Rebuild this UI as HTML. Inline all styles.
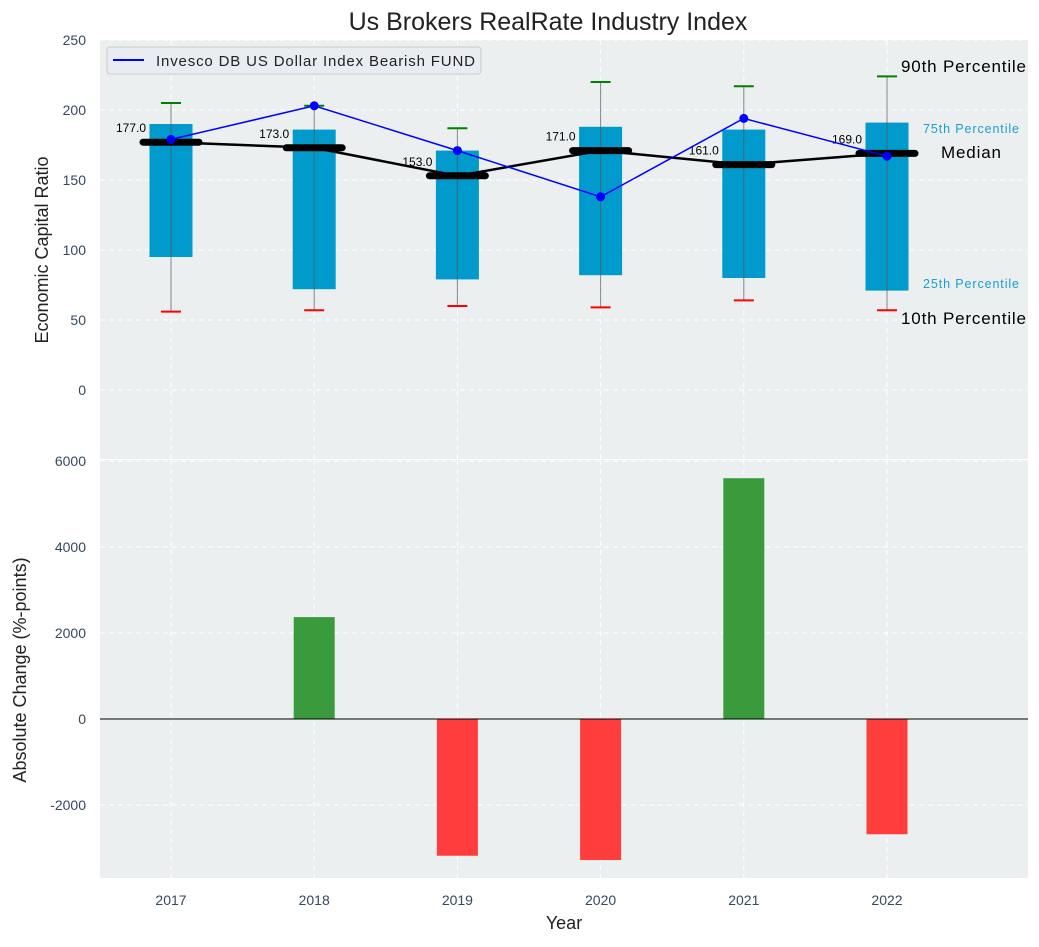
<!DOCTYPE html>
<html><head><meta charset="utf-8"><style>
body{margin:0;background:#fff;}
svg text{font-family:"Liberation Sans","DejaVu Sans",sans-serif;}
</style></head><body>
<svg id="chart" width="1039" height="942" xmlns="http://www.w3.org/2000/svg">
<rect x="0" y="0" width="1039" height="942" fill="#fff"/>
<text x="548" y="30" font-size="25" text-anchor="middle" fill="#222">Us Brokers RealRate Industry Index</text>
<rect x="100" y="40" width="928" height="419" fill="#ebeff0"/>
<rect x="100" y="460" width="928" height="418" fill="#ebeff0"/>
<g id="gtop"></g><g id="gbot"></g>
<text x="48" y="250" font-size="18" fill="#222" text-anchor="middle" transform="rotate(-90 48 250)">Economic Capital Ratio</text>
<text x="26" y="670" font-size="18" fill="#222" text-anchor="middle" transform="rotate(-90 26 670)">Absolute Change (%-points)</text>
<text x="564" y="929" font-size="18" fill="#222" text-anchor="middle">Year</text>
<g>
<rect x="107" y="47" width="374" height="27" rx="3" fill="#e9ecf0" stroke="#ccc"/>
<line x1="113" y1="60" x2="144" y2="60" stroke="#00f" stroke-width="2"/>
<text x="156" y="66" font-size="15" fill="#222" textLength="319">Invesco DB US Dollar Index Bearish FUND</text>
</g>
<text x="901" y="72" font-size="17" fill="#000" textLength="125">90th Percentile</text>
<text x="923" y="133" font-size="12.5" fill="#1a9fcf" textLength="96">75th Percentile</text>
<text x="941" y="158" font-size="17" fill="#000" textLength="60">Median</text>
<text x="923" y="288" font-size="12.5" fill="#1a9fcf" textLength="96">25th Percentile</text>
<text x="901" y="324" font-size="17" fill="#000" textLength="125">10th Percentile</text>
</svg>
<script>
const years=[2017,2018,2019,2020,2021,2022];
const p10=[56,57,60,59,64,57];
const p25=[95,72,79,82,80,71];
const med=[177,173,153,171,161,169];
const p75=[190,186,171,188,186,191];
const p90=[205,203,187,220,217,224];
const fund=[179,203,171,138,194,167];
const change=[0,2370,-3180,-3280,5600,-2680];
const yTicksTop=[0,50,100,150,200,250];
const yTicksBot=[-2000,0,2000,4000,6000];

const NS="http://www.w3.org/2000/svg";
const X=v=>171+(v-2017)*143.2;
const YT=v=>390-v*1.4;
const YB=v=>719-v*0.043;
function mk(p,tag,a){const e=document.createElementNS(NS,tag);for(const k in a)e.setAttribute(k,a[k]);p.appendChild(e);return e;}
const gTop=document.getElementById('gtop'),gBot=document.getElementById('gbot');
yTicksTop.forEach(t=>{
 const l=mk(gTop,'line',{x1:100,x2:1028,y1:YT(t),y2:YT(t),stroke:'#fff','stroke-dasharray':'5,4','stroke-width':1});
 
 
 const tx=mk(gTop,'text',{x:86,y:YT(t)+5,'font-size':14,fill:'#34495e','text-anchor':'end'});tx.textContent=t;
 
 
});
yTicksBot.forEach(t=>{
 const l=mk(gBot,'line',{x1:100,x2:1028,y1:YB(t),y2:YB(t),stroke:'#fff','stroke-dasharray':'5,4','stroke-width':1});
 
 
 const tx=mk(gBot,'text',{x:86,y:YB(t)+5,'font-size':14,fill:'#34495e','text-anchor':'end'});tx.textContent=t;
 
 
});
years.forEach(y=>{
 [[40,459],[460,878]].forEach(r=>{const l=mk(gTop,'line',{x1:X(y),x2:X(y),y1:r[0],y2:r[1],stroke:'#fff','stroke-dasharray':'5,4'});
 
 });
 const tx=mk(gBot,'text',{x:X(y),y:905,'font-size':14,fill:'#34495e','text-anchor':'middle'});tx.textContent=y;
 
 
});
years.forEach((y,i)=>{
 const x=X(y);
 const b=mk(gTop,'rect',{x:x-21.5,y:YT(p75[i]),width:43,height:YT(p25[i])-YT(p75[i]),fill:'#009ACD'});
 
 
 const w=mk(gTop,'line',{x1:x,x2:x,y1:YT(p90[i]),y2:YT(p10[i]),stroke:'#555','stroke-width':1,'stroke-opacity':0.7});
 
 
 const c1=mk(gTop,'line',{x1:x-10,x2:x+10,y1:YT(p90[i]),y2:YT(p90[i]),stroke:'green','stroke-width':2});
 
 
 const c2=mk(gTop,'line',{x1:x-10,x2:x+10,y1:YT(p10[i]),y2:YT(p10[i]),stroke:'red','stroke-width':2});
 
 
});
const mp=mk(gTop,'polyline',{points:years.map((y,i)=>X(y)+','+YT(med[i])).join(' '),fill:'none',stroke:'#000','stroke-width':2.5});


years.forEach((y,i)=>{
 const m=mk(gTop,'line',{x1:X(y)-28,x2:X(y)+28,y1:YT(med[i]),y2:YT(med[i]),stroke:'#000','stroke-width':7,'stroke-linecap':'round'});
 
 
 const t=mk(gTop,'text',{x:X(y)-25,y:YT(med[i])-10,'font-size':12,fill:'#000','text-anchor':'end'});t.textContent=med[i].toFixed(1);
 
 
});
const fp=mk(gTop,'polyline',{points:years.map((y,i)=>X(y)+','+YT(fund[i])).join(' '),fill:'none',stroke:'#00f','stroke-width':1.5});


years.forEach((y,i)=>{const c=mk(gTop,'circle',{cx:X(y),cy:YT(fund[i]),r:4.5,fill:'#00f'});
 
 });
years.forEach((y,i)=>{
 const v=change[i];
 const r=mk(gBot,'rect',{x:X(y)-20.5,y:Math.min(YB(v),YB(0)),width:41,height:Math.abs(YB(v)-YB(0)),fill:v>=0?'#3a9b3c':'#ff3d3d'});
 
 
});
const z=mk(gBot,'line',{x1:100,x2:1028,y1:YB(0),y2:YB(0),stroke:'#000','stroke-width':1});


</script>
</body></html>
